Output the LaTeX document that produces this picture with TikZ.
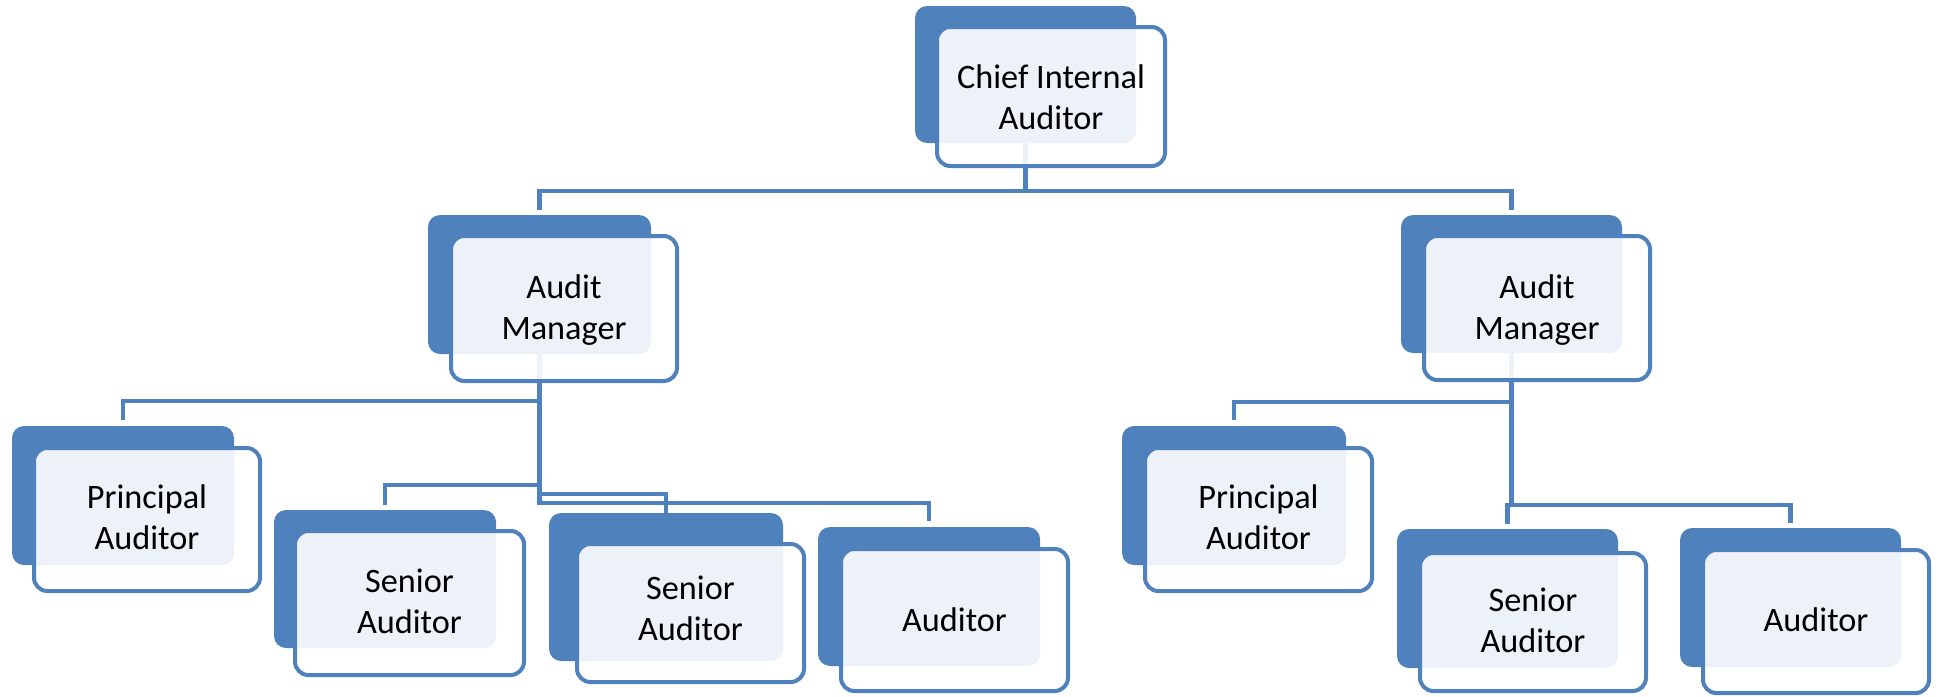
\documentclass[tikz,border=0pt]{standalone}
\usepackage{fontspec}
\setmainfont{Carlito}
\usetikzlibrary{fit}
\definecolor{accent}{RGB}{79,129,189}
\pgfdeclarelayer{bg}
\pgfsetlayers{bg,main}
\begin{document}
\begin{tikzpicture}[x=0.75pt,y=-0.75pt,
  backbox/.style={inner sep=0pt, outer sep=0pt, fill=accent, rounded corners=9pt, draw=none},
  frontbox/.style={inner sep=0pt, outer sep=0pt, draw=accent, line width=3pt, fill=white, fill opacity=0.9, draw opacity=1, rounded corners=10pt},
  lbl/.style={inner sep=0pt, align=center, font=\fontsize{25.7}{30.8}\selectfont, text=black},
  conn/.style={draw=accent, line width=3.2pt}]
\useasboundingbox (0,0) rectangle (1941,696);
% back shapes
\node[backbox, fit={(915,6) (1136,143)}] (ciaB) {};
\node[backbox, fit={(428,215) (651,354)}] (amlB) {};
\node[backbox, fit={(1401,215) (1622,353)}] (amrB) {};
\node[backbox, fit={(12,426) (234,565)}] (prlB) {};
\node[backbox, fit={(274,510) (496,648)}] (salB) {};
\node[backbox, fit={(549,513) (783,661)}] (sbB) {};
\node[backbox, fit={(818,527) (1040,666)}] (aulB) {};
\node[backbox, fit={(1122,426) (1346,565)}] (prrB) {};
\node[backbox, fit={(1397,529) (1618,668)}] (sarB) {};
\node[backbox, fit={(1680,528) (1901,667)}] (aurB) {};
% front shapes
\node[frontbox, fit={(937,27) (1165,166)}] (ciaF) {};
\node[frontbox, fit={(451,236) (677,381)}] (amlF) {};
\node[frontbox, fit={(1424,236) (1650,380)}] (amrF) {};
\node[frontbox, fit={(34,448) (260,591)}] (prlF) {};
\node[frontbox, fit={(295,531) (524,675)}] (salF) {};
\node[frontbox, fit={(577,544) (804,682)}] (sbF) {};
\node[frontbox, fit={(841,549) (1068,691)}] (aulF) {};
\node[frontbox, fit={(1145,448) (1372,591)}] (prrF) {};
\node[frontbox, fit={(1420,553) (1646,691)}] (sarF) {};
\node[frontbox, fit={(1703,550) (1929,693)}] (aurF) {};
% texts
\node[lbl] (ciaT) at ([yshift=-0.5pt]ciaF.center) {Chief Internal\\Auditor};
\node[lbl] (amlT) at ([yshift=-1.5pt]amlF.center) {Audit\\Manager};
\node[lbl] (amrT) at ([yshift=-1.5pt]amrF.center) {Audit\\Manager};
\node[lbl] (prlT) at ([yshift=1.5pt]prlF.center) {Principal\\Auditor};
\node[lbl] (salT) at ([yshift=1pt]salF.center) {Senior\\Auditor};
\node[lbl] (sbT) at ([yshift=3.5pt]sbF.center) {Senior\\Auditor};
\node[lbl] (aulT) at ([yshift=0.5pt]aulF.center) {Auditor};
\node[lbl] (prrT) at ([yshift=1.5pt]prrF.center) {Principal\\Auditor};
\node[lbl] (sarT) at ([yshift=1pt]sarF.center) {Senior\\Auditor};
\node[lbl] (aurT) at ([yshift=1pt]aurF.center) {Auditor};
% connectors
\begin{pgfonlayer}{bg}
\draw[conn] (ciaB.center) -- (ciaB.center |- 0,191) -| ([yshift=3.75pt]amlB.north);
\draw[conn] (ciaB.center |- 0,191) -| ([yshift=3.75pt]amrB.north);
\draw[conn] (amlB.center) -- (amlB.center |- 0,401) -| ([yshift=4.5pt]prlB.north);
\draw[conn] (amlB.center |- 0,485) -| ([yshift=3.75pt]salB.north);
\draw[conn] (amlB.center |- 0,494) -| (sbB.north);
\draw[conn] (amlB.center) -- (amlB.center |- 0,503) -| ([yshift=4.5pt]aulB.north);
\draw[conn] (amrB.center) -- (amrB.center |- 0,402) -| ([yshift=4.5pt]prrB.north);
\draw[conn] (amrB.center) -- (amrB.center |- 0,505) -| ([yshift=3.75pt]sarB.north);
\draw[conn] (amrB.center |- 0,505) -| ([yshift=3.75pt]aurB.north);
\end{pgfonlayer}
\end{tikzpicture}
\end{document}
